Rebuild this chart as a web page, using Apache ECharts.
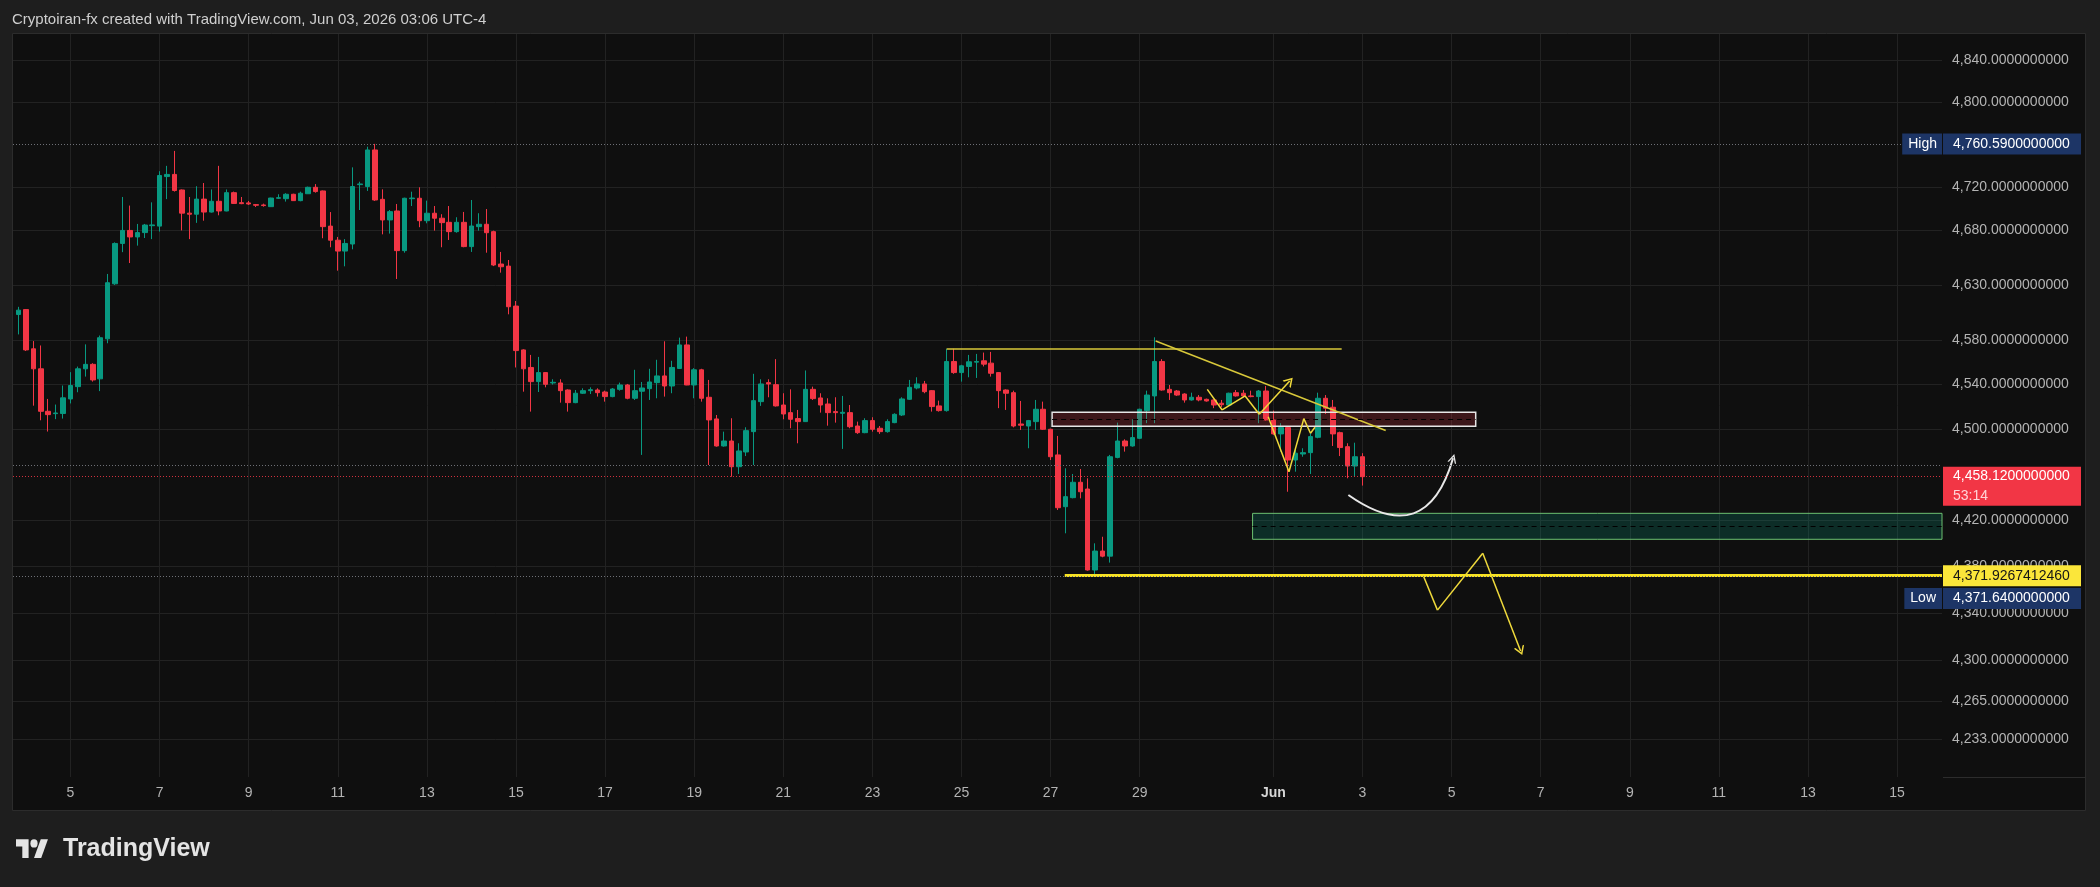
<!DOCTYPE html>
<html>
<head>
<meta charset="utf-8">
<script src="https://cdn.jsdelivr.net/npm/echarts@6/dist/echarts.min.js"></script>
<style>
html,body{margin:0;padding:0;background:#1e1e1e;}
#c{width:2100px;height:887px;}
</style>
</head>
<body>
<div id="c"></div>
<script>
// ---------- DATA (4h bars, bar 0 = May 3 20:00, bar 181 = Jun 3 00:00) ----------
// each row: [open, close, low, high]
const barOHLC = [
[4603,4607,4585,4610],[4607.5,4571,4570,4608],[4572,4554,4521,4579],[4554,4516,4508,4575],
[4516,4513,4498,4527],[4513.9,4514.5,4509,4522],[4514,4528,4509.5,4539],[4527,4539,4523,4551],
[4538,4554,4533,4556],[4554,4558,4547,4576],[4558,4544,4542.5,4559],[4545,4582,4534,4584],
[4581,4632,4577,4640],[4631,4668,4630,4669],[4668,4680,4660,4711],[4680,4674,4650,4703],
[4674,4678,4666,4686],[4678,4685,4673,4686],[4684.4,4685.1,4672,4706],[4684,4731,4679,4735],
[4730,4732,4709,4740],[4732,4717,4716,4754],[4717.5,4696,4680,4718],[4696,4695,4672,4711],
[4695,4709,4687,4721],[4709,4697,4689,4724],[4697,4707,4696.5,4718],[4707,4698,4694,4740],
[4698,4715,4697.7,4718],[4715,4705,4704.5,4716],[4705.7,4704.8,4704.3,4711],[4705.5,4704.5,4703.6,4707.3],
[4703.9,4703.3,4701.7,4704.5],[4703.6,4703.0,4702.0,4704.8],[4702,4710,4701.7,4710.3],[4709.8,4710.3,4709.1,4713.5],
[4709.4,4713.5,4706.7,4714.5],[4713.5,4707.6,4707.3,4714],[4707.6,4714.5,4707.0,4715.9],[4714,4720,4713.8,4720.6],
[4720,4716,4715,4723],[4716.6,4683.5,4672.8,4717],[4684,4671,4664.5,4697],[4671,4661,4643,4674],
[4661,4668,4647,4672],[4667.5,4720.7,4662.6,4738.6],[4722.5,4723.1,4698.9,4725.2],[4720.7,4754.9,4716.6,4758],
[4754.9,4708.2,4707.3,4760.59],[4708.8,4689.7,4676.4,4718.1],[4689.7,4697.4,4677.1,4698.9],[4698,4661.4,4635.4,4704.5],
[4661.4,4709.8,4659.5,4710.3],[4709.4,4710,4702.6,4715.9],[4709.8,4689,4683,4720],[4689,4695.9,4686.6,4707.6],
[4695.9,4691.3,4679.8,4702.6],[4691.3,4687.2,4664.5,4695],[4687.5,4678.9,4671.2,4702.6],[4678.9,4687.5,4677.9,4692.2],
[4687.5,4665.1,4664.5,4697.1],[4665.1,4684.1,4660.2,4708.2],[4683.5,4685.7,4679.8,4695.9],[4685.7,4677.9,4659.5,4699.8],
[4678.9,4648.2,4647.2,4679.8],[4649.1,4646.6,4641.2,4660.2],[4647.2,4610.1,4603.2,4652.8],[4610.7,4570.4,4555.2,4615.3],
[4571,4554,4533.5,4571.6],[4555.2,4542.5,4515.7,4566.5],[4542.5,4550.6,4533.2,4564.7],[4550.6,4540.1,4537.4,4551],
[4541.3,4541.9,4539.8,4544.6],[4541.3,4534.4,4523.7,4544.6],[4535,4523.7,4515.7,4535.6],[4523.7,4532.1,4523.2,4535],
[4532.1,4534.4,4531.4,4536.5],[4534.4,4535.3,4531.4,4537.4],[4535,4532.6,4529.1,4536.5],[4533.2,4529.1,4524.6,4534.4],
[4529.1,4535.9,4528.5,4536.8],[4535.6,4539.5,4534.4,4541.6],[4539.5,4527.6,4526.7,4540.4],[4527.6,4534.4,4526.1,4553.1],
[4533.9,4536.8,4477.3,4542.2],[4536.2,4542.2,4526.1,4554],[4541.6,4547.6,4527.6,4562.1],[4547.6,4538.6,4529.1,4578.8],
[4538.6,4555.2,4532.1,4561.2],[4554.3,4575.5,4554,4582.1],[4575.5,4539.5,4539.3,4583],[4539.5,4553.1,4527.6,4554.6],
[4553.1,4527.6,4524.6,4554],[4528.5,4508.3,4468.4,4544],[4509.2,4485.2,4484.6,4512.7],[4485.2,4489.6,4484.6,4497.9],
[4489.6,4466.9,4458.1,4509.8],[4466.9,4480.8,4460.5,4487.6],[4479.9,4498.8,4476.3,4501.8],[4497.9,4525.5,4468.4,4549.5],
[4524.6,4540.4,4520.8,4544.6],[4541.6,4540.4,4528.5,4544.6],[4539.8,4520.8,4520.2,4562.7],[4521.6,4513.6,4508.9,4532.1],
[4514.8,4508.9,4500.9,4535.6],[4509.5,4506.8,4487.6,4517.2],[4506.8,4535.6,4506.5,4552.5],[4535.6,4527.3,4526.1,4538],
[4527.9,4521.6,4514.8,4532.1],[4522.5,4514.8,4503.2,4527.6],[4515.7,4514.8,4505.9,4528.5],[4514.2,4515.1,4482.6,4529.7],
[4514.8,4502.3,4500.9,4521.6],[4502.9,4497,4495.9,4506.8],[4497,4507.7,4496.5,4509.8],[4507.7,4500,4497.9,4510.7],
[4500.9,4497.9,4495.9,4502.9],[4497.9,4506.8,4497,4508.9],[4505.9,4513.3,4505.4,4514.2],[4512.7,4527,4511.8,4528.5],
[4526.7,4537.4,4526.1,4544],[4536.8,4540.4,4535.6,4546.4],[4540.4,4533.5,4532.1,4543.1],[4534.4,4520.2,4515.7,4535],
[4520.8,4516.6,4515.7,4525.5],[4516.6,4560.6,4515.7,4572],[4560.6,4550.6,4549.5,4572],[4550.6,4556.7,4542.5,4557.6],
[4556.1,4560.3,4546.4,4566.5],[4560,4560.6,4545.8,4567.4],[4561.2,4558.2,4556.1,4568.6],[4559.1,4550,4547,4569.2],
[4550.6,4534.4,4518.8,4551],[4535,4532.1,4517.2,4535.6],[4532.6,4502.9,4501.7,4534.4],[4504.7,4503.6,4499.4,4525.2],
[4502.9,4507.7,4483.2,4508.3],[4506.8,4517.8,4499.4,4526.1],[4517.8,4500,4499.4,4524.6],[4500,4475.7,4472.8,4500.5],
[4477.3,4430.9,4428.9,4494.1],[4431.8,4440.6,4408.6,4465.5],[4439.7,4453.2,4439.1,4460.5],[4453.2,4444.9,4439.1,4464.9],
[4447.3,4376.8,4376.2,4456.7],[4376.8,4393.2,4371.64,4399.9],[4393.2,4388.8,4387.8,4405.6],[4388.8,4475.7,4383.2,4477.3],
[4475.1,4489.6,4474.3,4505.9],[4489.6,4485.2,4480.2,4491.1],[4485.2,4492.6,4484.6,4508.9],[4492,4517.8,4491.4,4518.3],
[4516.6,4530.5,4505.4,4534.4],[4529.7,4560.6,4505.4,4582.4],[4560.6,4535,4534.4,4562.7],[4535.6,4532.6,4526.1,4539.5],
[4534.1,4530.5,4529.7,4535],[4531.4,4526.1,4523.7,4532.1],[4526.1,4528.5,4525.5,4532.6],[4528.5,4526.1,4524.9,4530.5],
[4526.7,4525.2,4524.6,4527.3],[4526.1,4521.6,4518.8,4526.7],[4523.2,4521.9,4519.6,4526.1],[4521.6,4532.1,4520.8,4532.6],
[4532.6,4529.7,4529.1,4535],[4532.1,4529.7,4528.5,4535],[4529.7,4529.1,4528.5,4534.4],[4529.1,4534.1,4505.4,4535],
[4534.1,4508.3,4507.7,4538.6],[4508.3,4495.9,4495,4516.6],[4495.9,4501.5,4480.2,4505.4],[4501.5,4472.8,4444.9,4502.9],
[4472.8,4478.8,4462.5,4483.2],[4478.1,4479.3,4475.7,4483.2],[4479.3,4493.5,4460.5,4497.9],[4492.9,4527.6,4492,4532.6],
[4527.6,4518.8,4513.6,4530.5],[4519.6,4495.9,4485.2,4526.1],[4497,4483.8,4476.3,4497.9],[4484.6,4467.5,4456.7,4487.6],
[4467.5,4475.7,4458.1,4488.1],[4475.7,4458.12,4450.3,4478.8]
];

// time-scale labels (bar index where each label sits)
const dayLabels    = ['5','7','9','11','13','15','17','19','21','23','25','27','29','Jun','3','5','7','9','11','13','15'];
const dayLabelBars = [7,19,31,43,55,67,79,91,103,115,127,139,151,169,181,193,205,217,229,241,253];

// price-scale tick values
const priceTicks = [4840,4800,4720,4680,4630,4580,4540,4500,4420,4380,4340,4300,4265,4233];

// special price levels
const highPrice  = 4760.59;
const lowPrice   = 4371.64;
const lastPrice  = 4458.12;
const prevPrice  = 4468.1;
const alertPrice = 4371.9267412460;
const countdown  = '53:14';

// drawings, as [bar index, price]
const resistanceLine = [[125, 4572], [178.2, 4572]];
const trendLine      = [[153.15, 4579.1], [184.13, 4498.9]];
const supplyZone     = [[139.2, 4515.1], [196.25, 4502.7]];
const demandZone     = [[166.2, 4426.0], [259.05, 4403.4]];
const alertLine      = [[140.9, alertPrice], [259.05, alertPrice]];
const zigzagUp       = [[160.1,4535.6],[162.1,4517.2],[165.2,4529.7],[167.1,4513.3],[171.2,4543.1]];
const zigzagDrop     = [[168.3,4511.2],[171.1,4462.5],[173.1,4509.5],[174.0,4496.5],[174.6,4501.8]];
const bounceCurve    = [[179.1,4442.0],[193.2,4474.3]];
const breakdownPath  = [[189.1,4373.3],[191.1,4342.3],[197.2,4391.3],[202.3,4307.5]];

// ---------- RENDER ----------
const FONT = '"Liberation Sans", Arial, sans-serif';
const X_MIN = -0.744, X_MAX = 259.05, Y_MIN = 4201.7, Y_MAX = 4864.9;
const GRID_C = '#222222';
const TXT_C = '#b4b4b4';
const NAVY = '#1d3566';
const CLEAR = 'rgba(0,0,0,0)';
const CHEVRON = 'path://M0,10L5,0L10,10L8.4,10L5,3.2L1.6,10Z';

function fmt(v){
  const s = Number(v).toFixed(10).split('.');
  return s[0].replace(/\B(?=(\d{3})+(?!\d))/g, ',') + '.' + s[1];
}

const candleData = barOHLC.map((r, i) => [i, r[0], r[1], r[2], r[3]]);

function polySegments(points, color, width, arrow){
  const out = [];
  for (let k = 0; k < points.length - 1; k++){
    const last = (k === points.length - 2);
    out.push([
      {coord: points[k], symbol: 'none', lineStyle: {color: color, width: width, type: 'solid'}},
      {coord: points[k+1], symbol: (last && arrow) ? CHEVRON : 'none', symbolSize: [11, 9]}
    ]);
  }
  return out;
}

// grid lines + axis labels
const gridLines = [];
priceTicks.forEach(v => gridLines.push({
  yAxis: v,
  lineStyle: {color: GRID_C, width: 1, type: 'solid'},
  label: {show: true, position: 'end', distance: 10, formatter: fmt(v), color: TXT_C, fontSize: 14, fontFamily: FONT}
}));
dayLabelBars.forEach((b, k) => gridLines.push({
  xAxis: b,
  lineStyle: {color: GRID_C, width: 1, type: 'solid'},
  label: {show: true, position: 'start', distance: [0, 9], formatter: dayLabels[k], color: dayLabels[k] === 'Jun' ? '#d6d6d6' : TXT_C,
          fontWeight: dayLabels[k] === 'Jun' ? 'bold' : 'normal', fontSize: 14, fontFamily: FONT}
}));

const midSupply = Math.sqrt(supplyZone[0][1] * supplyZone[1][1]);
const midDemand = Math.sqrt(demandZone[0][1] * demandZone[1][1]);

const drawingLines = [
  [{coord: resistanceLine[0], symbol:'none', lineStyle:{color:'#d8c83a', width:1.5, type:'solid'}}, {coord: resistanceLine[1], symbol:'none'}],
  [{coord: trendLine[0], symbol:'none', lineStyle:{color:'#d8c83a', width:1.5, type:'solid'}}, {coord: trendLine[1], symbol:'none'}],
  [{coord: [supplyZone[0][0], midSupply], symbol:'none', lineStyle:{color:'#000000', width:1, type:[5,4]}}, {coord: [supplyZone[1][0], midSupply], symbol:'none'}],
  [{coord: [demandZone[0][0], midDemand], symbol:'none', lineStyle:{color:'#000000', width:1, type:[5,4]}}, {coord: [demandZone[1][0], midDemand], symbol:'none'}],
  ...polySegments(zigzagUp, '#f0da3c', 1.5, true),
  ...polySegments(zigzagDrop, '#f0da3c', 1.5, false),
  ...polySegments(breakdownPath, '#f0da3c', 1.5, true)
];

const boxLabel = (bg, fg) => ({
  show: true, backgroundColor: bg, color: fg, fontSize: 14, fontFamily: FONT,
  padding: [3, 9, 3, 10], width: 119, lineHeight: 15
});

const priceLabelLines = [
  {yAxis: highPrice, lineStyle:{color:'#6e7076', width:1, type:[1,2]},
   label: Object.assign(boxLabel(NAVY, '#ffffff'), {position:'end', distance:1, formatter: fmt(highPrice)})},
  {yAxis: highPrice, lineStyle:{color:CLEAR, width:1},
   label: {show:true, position:'insideEnd', distance:0, formatter:'High', backgroundColor:NAVY, color:'#fff', fontSize:14, fontFamily:FONT, padding:[3,5,3,6], lineHeight:15}},
  {yAxis: prevPrice, lineStyle:{color:'#6e7076', width:1, type:[1,2]}, label:{show:false}},
  {yAxis: lastPrice, lineStyle:{color:'#f23645', width:1, type:[1,2], opacity:0.85},
   label: {show:true, position:'insideEndBottom', distance:[-1,-10], align:'left', verticalAlign:'top', opacity:1,
           formatter:'{a|' + fmt(lastPrice) + '}\n{b|' + countdown + '}', backgroundColor:'#f23645',
           padding:[0,9,0,10], width:119,
           rich:{a:{color:'#ffffff', fontSize:14, fontFamily:FONT, lineHeight:19.5},
                 b:{color:'#ffd3d7', fontSize:14, fontFamily:FONT, lineHeight:19.5}}}},
  [{coord: alertLine[0], symbol:'none', lineStyle:{color:'#f7e223', width:3, type:'solid'},
    label: Object.assign(boxLabel('#fbe63a', '#161616'), {position:'end', distance:1, formatter: fmt(alertPrice)})},
   {coord: alertLine[1], symbol:'none'}],
  {yAxis: lowPrice, lineStyle:{color:'#6e7076', width:1, type:[1,2]},
   label: Object.assign(boxLabel(NAVY, '#ffffff'), {position:'insideEndBottom', distance:[-1,12], align:'left', verticalAlign:'top', formatter: fmt(lowPrice)})},
  {yAxis: lowPrice, lineStyle:{color:CLEAR, width:1},
   label: {show:true, position:'insideEndBottom', distance:[0,12], verticalAlign:'top', formatter:'Low', backgroundColor:NAVY, color:'#fff', fontSize:14, fontFamily:FONT, padding:[3,6,3,6], lineHeight:15}}
];

const chart = echarts.init(document.getElementById('c'), null, {renderer:'canvas', width:2100, height:887});

chart.setOption({
  animation: false,
  backgroundColor: '#1e1e1e',
  graphic: [
    {type:'rect', z:-10, shape:{x:12.5, y:33.5, width:2073, height:777}, style:{fill:'#0f0f0f', stroke:'#2c2c2c', lineWidth:1}},
    {type:'line', z:-9, shape:{x1:1943, y1:777.5, x2:2085, y2:777.5}, style:{stroke:'#2c2c2c', lineWidth:1}},
    {type:'text', x:12, y:20, style:{text:'Cryptoiran-fx created with TradingView.com, Jun 03, 2026 03:06 UTC-4', fill:'#cfcfcf', fontSize:15, fontFamily:FONT, verticalAlign:'middle'}},
    {type:'group', x:16, y:835, scaleX:0.9, scaleY:1.05, children:[
      {type:'polygon', shape:{points:[[14,22],[7,22],[7,11],[0,11],[0,4],[14,4]]}, style:{fill:'#e4e4e4'}},
      {type:'polygon', shape:{points:[[28,22],[20,22],[27.5,4],[35.5,4]]}, style:{fill:'#e4e4e4'}},
      {type:'circle', shape:{cx:20, cy:8, r:4}, style:{fill:'#e4e4e4'}}
    ]},
    {type:'text', x:63, y:849, style:{text:'TradingView', fill:'#e4e4e4', fontSize:25, fontWeight:'bold', fontFamily:FONT, verticalAlign:'middle'}}
  ],
  grid: {left:13, right:158, top:34, bottom:110, containLabel:false},
  xAxis: {type:'value', min:X_MIN, max:X_MAX, axisLine:{show:false}, axisTick:{show:false}, axisLabel:{show:false}, splitLine:{show:false}},
  yAxis: {type:'log', min:Y_MIN, max:Y_MAX, axisLine:{show:false}, axisTick:{show:false}, axisLabel:{show:false}, splitLine:{show:false}, minorSplitLine:{show:false}},
  series: [
    {name:'grid', type:'line', data:[], z:1, clip:false, silent:true,
     markLine:{z:1, silent:true, animation:false, symbol:['none','none'], data: gridLines}},
    {name:'price', type:'candlestick', z:2, barWidth:5, data: candleData,
     itemStyle:{color:'#089981', color0:'#f23645', borderColor:'#089981', borderColor0:'#f23645', borderWidth:1}},
    {name:'drawings', type:'line', data:[], z:3, clip:false, silent:true,
     markArea:{z:3, silent:true, animation:false, label:{show:false}, data:[
       [{coord: supplyZone[0], itemStyle:{color:'rgba(242,54,69,0.2)', borderColor:'#e6e6e6', borderWidth:1.5}}, {coord: supplyZone[1]}],
       [{coord: demandZone[0], itemStyle:{color:'rgba(8,153,129,0.22)', borderColor:'#6cc070', borderWidth:1}}, {coord: demandZone[1]}]
     ]},
     markLine:{z:4, silent:true, animation:false, symbol:['none','none'], label:{show:false}, data: drawingLines}},
    {name:'bounce', type:'lines', coordinateSystem:'cartesian2d', z:4, silent:true, animation:false,
     symbol:['none', CHEVRON], symbolSize:[11, 9],
     lineStyle:{color:'#e8e8e8', width:2, opacity:1, curveness:-0.7},
     data:[{coords: bounceCurve}]},
    {name:'levels', type:'line', data:[], z:5, clip:false, silent:true,
     markLine:{z:6, silent:true, animation:false, symbol:['none','none'], data: priceLabelLines}}
  ]
});
</script>
</body>
</html>
